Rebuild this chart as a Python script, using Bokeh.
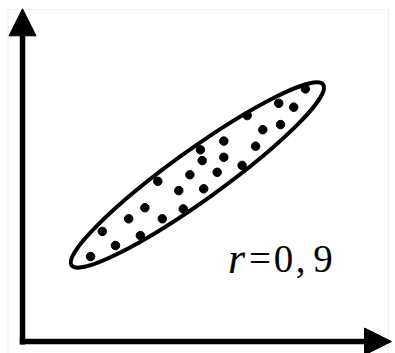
import math
from bokeh.plotting import figure
from bokeh.models import Range1d, Arrow, NormalHead, Label, BoxAnnotation
from bokeh.embed import file_html
from bokeh.resources import INLINE

# Data (arbitrary units; origin at the axes' corner)
x_vals = [9.43, 8.54, 9.04, 7.49, 8.60, 8.01, 6.71, 7.77, 5.93, 6.71,
          5.99, 7.32, 6.49, 5.58, 4.51, 5.21, 6.04, 4.08, 5.36, 3.54,
          4.66, 2.66, 3.93, 3.10, 2.27]
y_vals = [8.42, 7.94, 7.81, 7.53, 7.23, 7.06, 6.68, 6.51, 6.39, 6.14,
          6.03, 5.87, 5.64, 5.56, 5.34, 5.03, 5.09, 4.46, 4.42, 4.09,
          4.09, 3.67, 3.53, 3.20, 2.83]

# Enclosing ellipse (data units)
ell_center = [5.83, 5.55]
ell_major = 10.33
ell_minor = 1.67
ell_angle_deg = 35.7

label_r = "r"
label_val = "=0,9"

S = 30.0  # px per unit
p = figure(width=395, height=353, output_backend="svg", toolbar_location=None,
           x_range=Range1d(-22 / S, 373 / S), y_range=Range1d(-12 / S, 341 / S),
           min_border=0, min_border_left=0, min_border_right=0,
           min_border_top=0, min_border_bottom=0)
p.axis.visible = False
p.grid.visible = False
p.outline_line_color = None
p.background_fill_color = "white"
p.border_fill_color = "white"

# light frame of the picture
p.add_layout(BoxAnnotation(left=-14.5 / S, right=366 / S, top=332 / S, bottom=-1.0,
                           fill_color=None, fill_alpha=0, line_color="#cccccc", line_width=1.2))

# enclosing ellipse
p.ellipse(x=[ell_center[0]], y=[ell_center[1]], width=[ell_major], height=[ell_minor],
          angle=[math.radians(ell_angle_deg)], fill_color=None, line_color="black", line_width=4)

# points
p.scatter(x_vals, y_vals, size=8.5, color="black")

# axes as arrows
p.add_layout(Arrow(x_start=0, y_start=-0.1, x_end=0, y_end=11.09,
                   line_width=5.5, line_color="black",
                   end=NormalHead(size=27, fill_color="black", line_color="black", line_width=1)))
p.add_layout(Arrow(x_start=-0.09, y_start=0, x_end=12.3, y_end=0,
                   line_width=5.5, line_color="black",
                   end=NormalHead(size=27, fill_color="black", line_color="black", line_width=1)))

# "r=0,9" annotation, spaced out like the reference (glyph centres)
base_y = 83 / S
p.add_layout(Label(x=214 / S, y=base_y, text=label_r, text_font="Liberation Serif",
                   text_font_style="italic", text_font_size="44px", text_color="black",
                   text_baseline="alphabetic", text_align="center"))
char_centres = [237.5, 261, 278, 300.5]
for ch, c in zip(label_val, char_centres):
    p.add_layout(Label(x=c / S, y=base_y, text=ch, text_font="Liberation Serif",
                       text_font_size="39px", text_color="black",
                       text_baseline="alphabetic", text_align="center"))

open("out.html", "w").write(file_html(p, INLINE))
